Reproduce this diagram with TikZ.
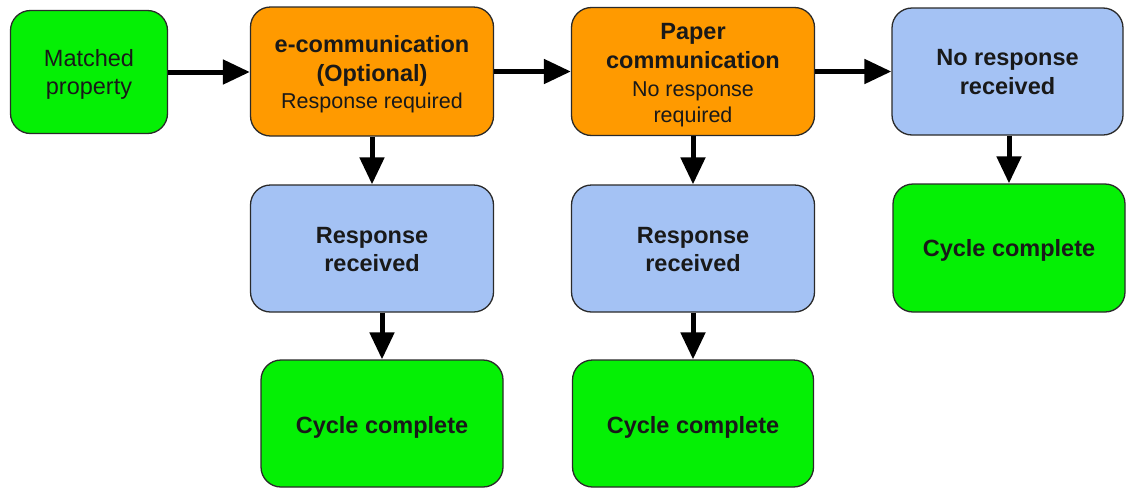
\documentclass[tikz,border=0pt]{standalone}
\usepackage{fontspec}
\setmainfont{Liberation Sans}
\usetikzlibrary{arrows.meta}
\definecolor{gfill}{HTML}{05F005}
\definecolor{ofill}{HTML}{FF9A00}
\definecolor{bfill}{HTML}{A4C2F4}
\definecolor{bord}{HTML}{2A2A2A}
\tikzset{
  box/.style={draw=bord, line width=1.3pt, rounded corners=20pt, inner sep=0pt},
  gbox/.style={box, fill=gfill},
  obox/.style={box, fill=ofill},
  bbox/.style={box, fill=bfill},
  txt/.style={anchor=base, inner sep=0pt, text=black!90},
  txtb/.style={txt, font=\fontsize{23.5}{28}\selectfont\bfseries},
  txtr/.style={txt, font=\fontsize{23.5}{28}\selectfont},
  txts/.style={txt, font=\fontsize{21.5}{26}\selectfont},
  arr/.style={line width=5pt, -{Triangle[length=27pt,width=24pt]}, black},
}
\begin{document}
\begin{tikzpicture}[x=1pt,y=-1pt]
\useasboundingbox (0,0) rectangle (1127,488);
% boxes
\node[gbox, minimum width=157pt, minimum height=123pt] (mp) at (89,72) {};
\node[obox, minimum width=243pt, minimum height=129pt] (ec) at (372,71.5) {};
\node[obox, minimum width=243pt, minimum height=128pt] (pc) at (693,71.5) {};
\node[bbox, minimum width=231pt, minimum height=127pt] (nr) at (1007.5,71.5) {};
\node[bbox, minimum width=243pt, minimum height=127pt] (r1) at (372,248.5) {};
\node[bbox, minimum width=243pt, minimum height=127pt] (r2) at (693,248.5) {};
\node[gbox, minimum width=232pt, minimum height=128pt] (c3) at (1009,248) {};
\node[gbox, minimum width=242pt, minimum height=127pt] (c1) at (382,423.5) {};
\node[gbox, minimum width=241pt, minimum height=127pt] (c2) at (693,423.5) {};
% texts
\node[txtr] (mpa) at (89,66) {Matched};
\node[txtr] (mpb) at (89,94.3) {property};
\node[txtb] (eca) at (372,52.7) {e-communication};
\node[txtb] (ecb) at (372,81.7) {(Optional)};
\node[txts] (ecc) at (372,108.3) {Response required};
\node[txtb] (pca) at (693,39) {Paper};
\node[txtb] (pcb) at (693,68) {communication};
\node[txts] (pcc) at (693,96.5) {No response};
\node[txts] (pcd) at (693,122) {required};
\node[txtb] (nra) at (1007.5,65.7) {No response};
\node[txtb] (nrb) at (1007.5,94.3) {received};
\node[txtb] (r1a) at (372,243.3) {Response};
\node[txtb] (r1b) at (372,271.7) {received};
\node[txtb] (r2a) at (693,243.3) {Response};
\node[txtb] (r2b) at (693,271.7) {received};
\node[txtb] (c3a) at (1009,256) {Cycle complete};
\node[txtb] (c1a) at (382,433) {Cycle complete};
\node[txtb] (c2a) at (693,433) {Cycle complete};
% arrows
\draw[arr] (mp.east) -- (ec.west |- mp.east);
\draw[arr] (ec.east) -- (pc.west |- ec.east);
\draw[arr] (pc.east) -- (nr.west |- pc.east);
\draw[arr] (ec.south) -- (r1.north);
\draw[arr] (r1.south -| c1.north) -- (c1.north);
\draw[arr] (pc.south) -- (r2.north);
\draw[arr] (r2.south) -- (c2.north);
\draw[arr] (nr.south -| c3.north) -- (c3.north);
\end{tikzpicture}
\end{document}
